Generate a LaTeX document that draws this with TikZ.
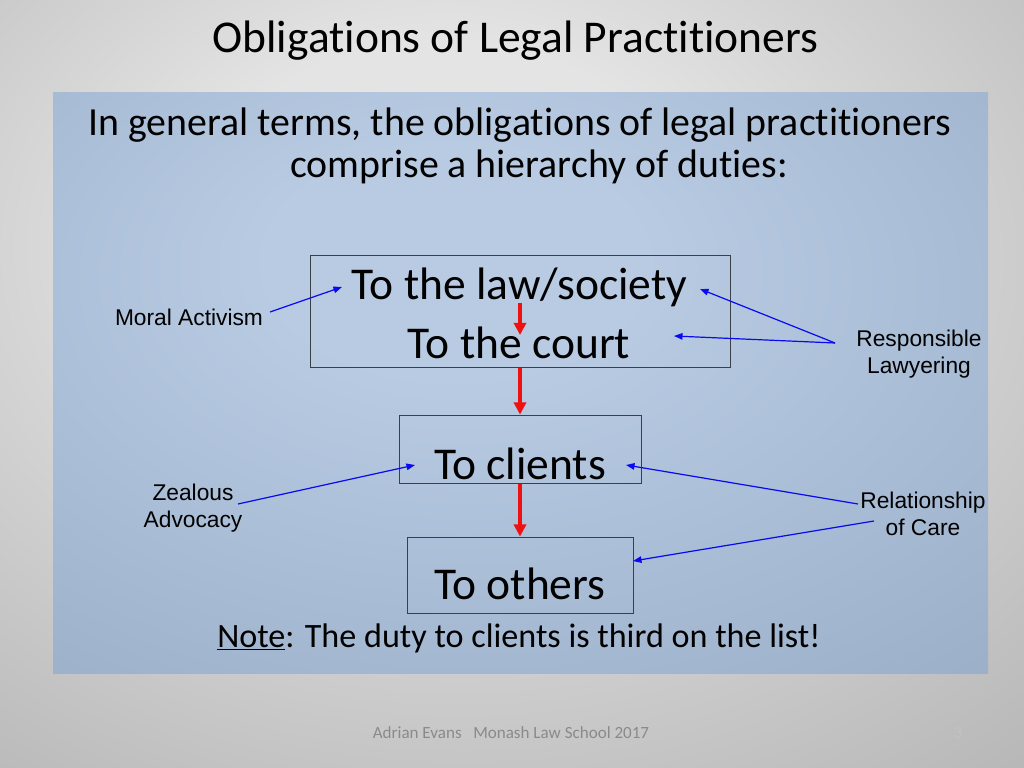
\documentclass[tikz,border=0pt]{standalone}
\usepackage{fontspec}
\setmainfont{Carlito}[Ligatures={NoCommon,NoContextual},RawFeature={-liga;-clig;-calt;-dlig}]
\newfontfamily\arialf{Liberation Sans}
\usetikzlibrary{arrows.meta}
\definecolor{bgA}{HTML}{E4E4E4}
\definecolor{bgB}{HTML}{979797}
\definecolor{pA}{HTML}{B8CBE3}
\definecolor{pB}{HTML}{8599B4}
\definecolor{arrblue}{HTML}{0A0AF0}
\definecolor{arrred}{HTML}{F01010}
\definecolor{footgray}{HTML}{8A8A8A}
\definecolor{pagegray}{HTML}{C2C2C2}
\definecolor{boxline}{HTML}{3A4048}
\pgfdeclareradialshading{bgshade}{\pgfpoint{-4bp}{12bp}}{color(0bp)=(bgA); color(12bp)=(bgA); color(62bp)=(bgB); color(80bp)=(bgB)}
\pgfdeclareradialshading{panelshade}{\pgfpoint{-4bp}{12bp}}{color(0bp)=(pA); color(10bp)=(pA); color(66bp)=(pB); color(80bp)=(pB)}
\tikzset{
  titletext/.style={font=\fontsize{32}{38}\selectfont, anchor=base, inner sep=0pt},
  bodytext/.style={font=\fontsize{28}{34}\selectfont, anchor=base, inner sep=0pt},
  dutytext/.style={font=\fontsize{32}{38}\selectfont, anchor=base, inner sep=0pt},
  notetext/.style={font=\fontsize{24}{29}\selectfont, anchor=base, inner sep=0pt},
  labeltext/.style={font=\arialf\fontsize{16}{18.4}\selectfont, anchor=base, inner sep=0pt, align=center},
  dutybox/.style={draw=boxline, line width=0.7pt, rectangle, inner sep=0pt},
  redarrow/.style={draw=arrred, line width=2.2pt, -{Triangle[length=8.5pt,width=8.5pt]}},
  bluearrow/.style={draw=arrblue, line width=0.85pt, -{Triangle[length=6pt,width=4.6pt]}},
  foottext/.style={font=\fontsize{12}{14}\selectfont, anchor=base, inner sep=0pt, text=footgray}
}
\begin{document}
\begin{tikzpicture}[x=0.703125pt,y=-0.703125pt]
  \useasboundingbox (0,0) rectangle (1024,768);
  \shade[shading=bgshade] (0,0) rectangle (1024,768);
  \shade[shading=panelshade] (53,93) rectangle (988,673);

  % title and intro
  \node[titletext] (title) at (515.5,53) {Obligations of Legal Practitioners};
  \node[bodytext] (intro1) at (520,136) {In general terms, the obligations of legal practitioners};
  \node[bodytext] (intro2) at (539,178) {comprise a hierarchy of duties:};

  % boxes
  \node[dutybox, minimum width=295.3pt, minimum height=78.05pt] (box1) at (520,311.5) {};
  \node[dutybox, minimum width=170.2pt, minimum height=48.5pt] (box2) at (520.5,449.5) {};
  \node[dutybox, minimum width=158.9pt, minimum height=54.1pt] (box3) at (520,575.5) {};

  \node[dutytext] (law) at (519.5,299) {To the law/society};
  \node[dutytext] (court) at (519,358) {To the court};
  \node[dutytext] (clients) at (520,479) {To clients};
  \node[dutytext] (others) at (520,599) {To others};

  \node[notetext] (note) at (519,647) {\underline{Note}: The duty to clients is third on the list!};

  % red hierarchy arrows
  \draw[redarrow] ([yshift=-2.8pt]law.base -| box1.center) -- ([yshift=16.2pt]court.base -| box1.center);
  \draw[redarrow] (box1.south) -- (box2.north -| box1.south);
  \draw[redarrow] (box2.south -| box1.south) -- (box3.north -| box1.south);

  % side labels (base anchor = baseline of the last line)
  \node[labeltext] (moral) at (189,325) {Moral Activism};
  \node[labeltext] (resp) at (919,373) {Responsible\\Lawyering};
  \node[labeltext] (zeal) at (193,527) {Zealous\\Advocacy};
  \node[labeltext] (care) at (923,535) {Relationship\\of Care};

  % blue arrow end points
  \coordinate (maS) at (270,312);
  \coordinate (maT) at (342,287);
  \coordinate (rlS) at (835,343);
  \coordinate (rlT1) at (700,289);
  \coordinate (rlT2) at (674,336);
  \coordinate (zaS) at (238,504);
  \coordinate (zaT) at (415,465);
  \coordinate (rcS1) at (858,504);
  \coordinate (rcT1) at (626,465);
  \coordinate (rcS2) at (874,521);
  \coordinate (rcT2) at (633,561);

  \draw[bluearrow] (maS) -- (maT);
  \draw[bluearrow] (rlS) -- (rlT1);
  \draw[bluearrow] (rlS) -- (rlT2);
  \draw[bluearrow] (zaS) -- (zaT);
  \draw[bluearrow] (rcS1) -- (rcT1);
  \draw[bluearrow] (rcS2) -- (rcT2);

  % footer
  \node[foottext] (footer) at (511,738) {Adrian Evans\ \ \ Monash Law School 2017};
  \node[foottext, text=pagegray] (page) at (958,738) {3};
\end{tikzpicture}
\end{document}
